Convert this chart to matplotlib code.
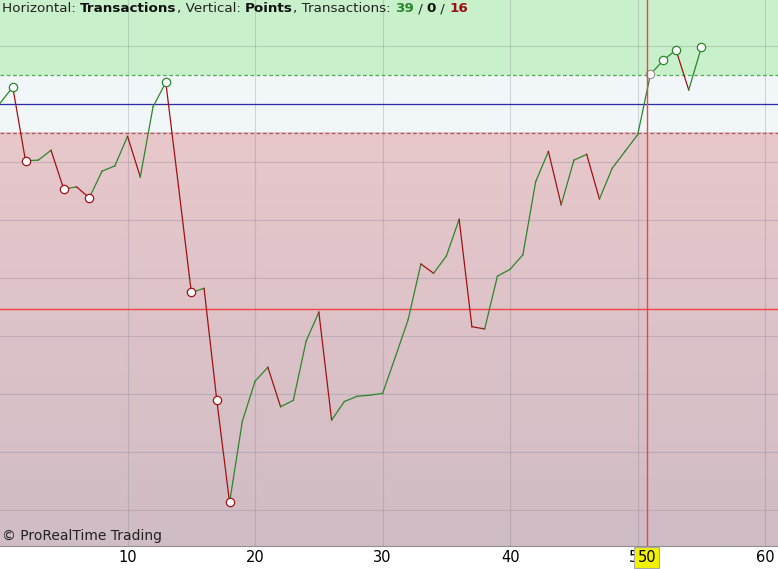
import matplotlib
matplotlib.use('Agg')
import matplotlib.pyplot as plt
import numpy as np
from matplotlib.colors import LinearSegmentedColormap

# equity curve (points) per transaction
trades = list(range(56))
points = [701, 729, 602, 603, 620, 553, 557, 538, 584, 593,
          644, 574, 695, 737, 557, 375, 382, 189, 13, 153,
          222, 246, 178, 189, 291, 341, 155, 187, 196, 198,
          201, 264, 328, 424, 408, 438, 501, 316, 312, 403,
          415, 440, 566, 618, 526, 603, 613, 536, 589, 618,
          647, 751, 775, 793, 724, 798]

# circled points
marks_up = [1, 13, 52, 53, 55]
marks_down = [2, 5, 7, 15, 17, 18]
mark_cursor = [51]

start_level = 700
upper_level = 750
lower_level = 650
red_level = 347
cursor_x = 50.7
cursor_label = '50'

xticks = [10, 20, 30, 40, 50, 60]
ygrid = [0, 100, 200, 300, 400, 500, 600, 700, 800]

n_win, n_even, n_loss = 39, 0, 16

GREEN = '#2a872a'
RED = '#a01212'

fig = plt.figure(figsize=(7.78, 5.69), dpi=100)
ax = fig.add_axes([0, 23 / 569, 1, 546 / 569])
xmin, xmax = 0, 61.0
ymin, ymax = -62, 879
ax.set_xlim(xmin, xmax)
ax.set_ylim(ymin, ymax)

# background zones
ax.axhspan(upper_level, ymax, color='#c8f0cb', zorder=0, lw=0)
ax.axhspan(lower_level, upper_level, color='#f1f6f9', zorder=0, lw=0)
cmap = LinearSegmentedColormap.from_list('zone', ['#e8c8cb', '#d0bcc5'])
grad = np.linspace(0, 1, 256).reshape(-1, 1)
ax.imshow(grad, extent=[xmin, xmax, ymin, lower_level], cmap=cmap,
          aspect='auto', origin='upper', zorder=0)

# grid
for gx in xticks:
    ax.axvline(gx, color='#7a7a8a', alpha=0.28, lw=0.8, zorder=1)
for gy in ygrid:
    ax.axhline(gy, color='#7a7a8a', alpha=0.28, lw=0.8, zorder=1)

ax.axhline(upper_level, color='#4cae4c', lw=0.9, ls=(0, (3, 2)), zorder=2)
ax.axhline(lower_level, color='#a85a5a', lw=0.9, ls=(0, (3, 2)), zorder=2)
ax.axhline(start_level, color='#2b2ba5', lw=0.9, zorder=2)
ax.axhline(red_level, color='#f04444', lw=1.0, zorder=2)

# curve, green when rising, red when falling
for i in range(len(trades) - 1):
    c = GREEN if points[i + 1] >= points[i] else RED
    ax.plot(trades[i:i + 2], points[i:i + 2], color=c, lw=0.9, zorder=3)

ax.plot([trades[i] for i in marks_up], [points[i] for i in marks_up], 'o',
        ms=6, mfc='white', mec=GREEN, mew=0.9, zorder=4)
ax.plot([trades[i] for i in marks_down], [points[i] for i in marks_down], 'o',
        ms=6, mfc='white', mec=RED, mew=0.9, zorder=4)
ax.plot([trades[i] for i in mark_cursor], [points[i] for i in mark_cursor], 'o',
        ms=6, mfc='white', mec='#9a9a9a', mew=0.9, zorder=4)

ax.axvline(cursor_x, color='#f04444', lw=1.0, zorder=5)

# axes look
for s in ['top', 'left', 'right']:
    ax.spines[s].set_visible(False)
ax.spines['bottom'].set_color('#909090')
ax.set_yticks([])
ax.set_xticks(xticks)
ax.tick_params(axis='x', length=0, pad=3, labelsize=10.5)

# cursor label on the axis
ax.annotate(cursor_label, xy=(cursor_x, 0), xycoords=('data', 'axes fraction'),
            xytext=(0, -3), textcoords='offset points', ha='center', va='top',
            fontsize=10.5, zorder=6,
            bbox=dict(boxstyle='square,pad=0.2', fc='#f2f200', ec='#a8a8a8', lw=0.8),
            annotation_clip=False)

# header
fs = 9.7
parts = [('Horizontal: ', 'normal', '#222222'),
         ('Transactions', 'bold', '#111111'),
         (', Vertical: ', 'normal', '#222222'),
         ('Points', 'bold', '#111111'),
         (', Transactions: ', 'normal', '#222222'),
         (str(n_win), 'bold', '#2a8a2a'),
         (' / ', 'normal', '#222222'),
         (str(n_even), 'bold', '#111111'),
         (' / ', 'normal', '#222222'),
         (str(n_loss), 'bold', '#9a1010')]
t = None
for txt, w, c in parts:
    if t is None:
        t = ax.text(2 / 778, 1 - 2 / 546, txt, transform=ax.transAxes,
                    ha='left', va='top', fontsize=fs, fontweight=w, color=c, zorder=6)
    else:
        t = ax.annotate(txt, xy=(1, 0), xycoords=t, ha='left', va='bottom',
                        fontsize=fs, fontweight=w, color=c, zorder=6)

ax.text(2 / 778, 3 / 546, '\u00a9 ProRealTime Trading', transform=ax.transAxes,
        ha='left', va='bottom', fontsize=10, color='#222222', zorder=6)

fig.savefig('out.png', dpi=100)
